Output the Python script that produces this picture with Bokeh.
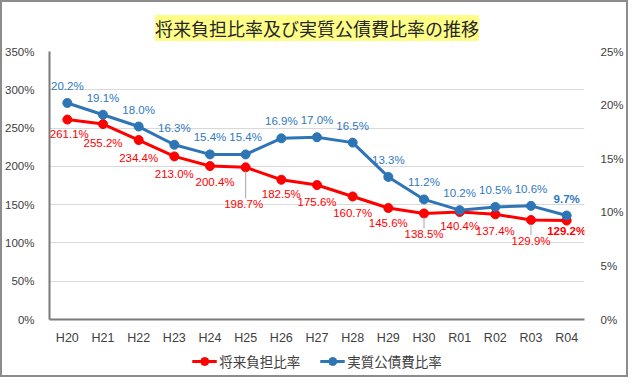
from bokeh.plotting import figure
from bokeh.layouts import column
from bokeh.models import (Range1d, LinearAxis, FixedTicker, PrintfTickFormatter,
                          ColumnDataSource, Legend, LegendItem)
from bokeh.core.properties import value
from bokeh.embed import file_html
from bokeh.resources import INLINE

# ---- data ----
years = ["H20", "H21", "H22", "H23", "H24", "H25", "H26", "H27",
         "H28", "H29", "H30", "R01", "R02", "R03", "R04"]
future_burden = [261.1, 255.2, 234.4, 213.0, 200.4, 198.7, 182.5, 175.6,
                 160.7, 145.6, 138.5, 140.4, 137.4, 129.9, 129.2]
debt_service = [20.2, 19.1, 18.0, 16.3, 15.4, 15.4, 16.9, 17.0,
                16.5, 13.3, 11.2, 10.2, 10.5, 10.6, 9.7]
left_ticks = [0, 50, 100, 150, 200, 250, 300, 350]
right_ticks = [0, 5, 10, 15, 20, 25]
title_text = "将来負担比率及び実質公債費比率の推移"
series_names = ["将来負担比率", "実質公債費比率"]

# ---- label placement (screen px) ----
red_dy = [14, 19, 18, 18, 16, 37, 14, 17, 17, 15, 21, 14, 17, 21, 10]
red_dx = [2, 0, 0, 0, 5, -2, 0, 0, 0, 0, 0, 0, 0, 0, 0]
blue_dy = [-17] * len(years)
leaders = ["H25", "H30", "R03"]

RED = "#FF0000"
BLUE = "#2E75B6"
NUM_FONT = "Liberation Sans"
JP_FONT = "Noto Sans CJK JP"

W = 624
p = figure(x_range=years, y_range=Range1d(0, 350), width=W, height=345,
           output_backend="svg", toolbar_location=None,
           min_border_left=45, min_border_right=36, min_border_top=49,
           min_border_bottom=24)
p.outline_line_color = None
p.extra_y_ranges = {"right": Range1d(0, 25)}

# title
p.title.text = title_text
p.title.align = "center"
p.title.text_font = JP_FONT
p.title.text_font_size = "18px"
p.title.text_font_style = "normal"
p.title.text_color = "#262626"
p.title.background_fill_color = "#FFFF88"
p.title.padding = 0
p.title.standoff = 21
p.title.offset = 5

# axes
p.yaxis.ticker = FixedTicker(ticks=left_ticks)
p.yaxis.formatter = PrintfTickFormatter(format="%d%%")
right_axis = LinearAxis(y_range_name="right", ticker=FixedTicker(ticks=right_ticks),
                        formatter=PrintfTickFormatter(format="%d%%"))
p.add_layout(right_axis, "right")

for ax in [p.xaxis[0], p.yaxis[0], right_axis]:
    ax.major_tick_line_color = None
    ax.minor_tick_line_color = None
    ax.major_label_text_font = "Liberation Sans"
    ax.major_label_text_color = "#404040"
    ax.major_label_text_font_size = "11.5px"
p.xaxis.major_label_text_font_size = "12.5px"
p.xaxis.major_label_standoff = 5
p.yaxis[0].major_label_standoff = 9
right_axis.major_label_standoff = 10
p.xaxis.axis_line_color = "#7a7a7a"
p.xaxis.axis_line_width = 2
p.yaxis[0].axis_line_color = "#7a7a7a"
p.yaxis[0].axis_line_width = 2
right_axis.axis_line_color = None

p.xgrid.grid_line_color = None
p.ygrid.grid_line_color = "#D9D9D9"
p.ygrid.grid_line_width = 1

# series
red_line = p.line(years, future_burden, line_color=RED, line_width=3)
red_pts = p.scatter(years, future_burden, size=9, fill_color=RED, line_color=RED)
blue_line = p.line(years, debt_service, line_color=BLUE, line_width=3, y_range_name="right")
blue_pts = p.scatter(years, debt_service, size=9, fill_color=BLUE, line_color=BLUE,
                     y_range_name="right")

# leader lines
px = 350 / 269.0
lx, ly0, ly1 = [], [], []
for i, yr in enumerate(years):
    if yr in leaders:
        lx.append(yr)
        ly0.append(future_burden[i] - 4 * px)
        ly1.append(future_burden[i] - (red_dy[i] - 6) * px)
p.segment(x0=lx, y0=ly0, x1=lx, y1=ly1, line_color="#A6A6A6", line_width=1)

# data labels
styles = ["normal"] * (len(years) - 1) + ["bold"]
red_src = ColumnDataSource(dict(x=years, y=future_burden,
                                t=[f"{v:.1f}%" for v in future_burden],
                                dx=red_dx, dy=red_dy, s=styles))
p.text(x="x", y="y", text="t", x_offset="dx", y_offset="dy", source=red_src,
       text_align="center", text_baseline="middle", text_color=RED,
       text_font=value(NUM_FONT), text_font_size="11.5px", text_font_style="s")
blue_src = ColumnDataSource(dict(x=years, y=debt_service,
                                 t=[f"{v:.1f}%" for v in debt_service],
                                 dy=blue_dy, s=styles))
p.text(x="x", y="y", text="t", y_offset="dy", source=blue_src, y_range_name="right",
       text_align="center", text_baseline="middle", text_color="#2F78C0",
       text_font=value(NUM_FONT), text_font_size="11.5px", text_font_style="s")

# legend in its own strip below the chart; its sample glyphs sit outside the view
lg = figure(width=W, height=28, output_backend="svg", toolbar_location=None,
            x_axis_location=None, y_axis_location=None, min_border=0,
            x_range=Range1d(0, 1), y_range=Range1d(0, 1))
lg.outline_line_color = None
lg.grid.visible = False
hidden_x = [5, 6]
hidden_y = [5, 5]
r1 = lg.line(x=hidden_x, y=hidden_y, line_color=RED, line_width=3)
r1p = lg.scatter(x=hidden_x, y=hidden_y, size=7, fill_color=RED, line_color=RED)
r2 = lg.line(x=hidden_x, y=hidden_y, line_color=BLUE, line_width=3)
r2p = lg.scatter(x=hidden_x, y=hidden_y, size=7, fill_color=BLUE, line_color=BLUE)
legend = Legend(items=[LegendItem(label=series_names[0], renderers=[r1, r1p]),
                       LegendItem(label=series_names[1], renderers=[r2, r2p])],
                orientation="horizontal", location="center",
                label_text_font=JP_FONT, label_text_font_size="13.5px",
                label_text_color="#404040", glyph_width=25, label_standoff=3,
                spacing=19, border_line_color=None, background_fill_alpha=0,
                padding=2, margin=0)
lg.add_layout(legend)

layout = column(p, lg, styles={"border": "2px solid #8c8c8c"})

open("out.html", "w").write(file_html(layout, INLINE))
